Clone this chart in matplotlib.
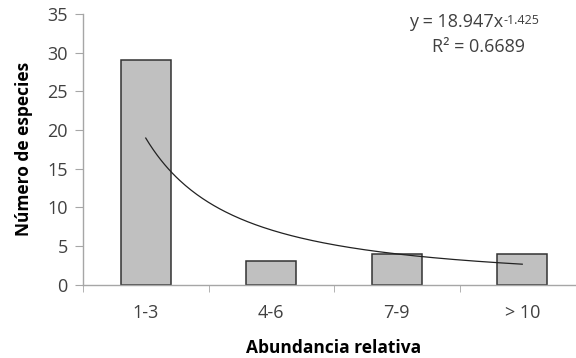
import numpy as np
import matplotlib
matplotlib.use('Agg')
import matplotlib.pyplot as plt

categories = ['1-3', '4-6', '7-9', '> 10']
species = [29, 3, 4, 4]
# power trendline shown on the chart
coef_a = 18.947
coef_b = -1.425

plt.rcParams['font.family'] = ['Open Sans', 'DejaVu Sans']

fig = plt.figure(figsize=(5.76, 3.58), dpi=100)
ax = fig.add_axes([83 / 576, 1 - 284.5 / 358, 502 / 576, 270.5 / 358])

x = np.arange(len(categories))
ax.bar(x, species, width=0.4, color='#C0C0C0', edgecolor='#333333', linewidth=1.1, zorder=2)

xt = np.linspace(1, len(categories), 200)
ax.plot(xt - 1, coef_a * xt ** coef_b, color='#222222', linewidth=0.9, zorder=3)

ax.set_xlim(-0.5, len(categories) - 0.5)
ax.set_ylim(0, 35)
ax.set_yticks(range(0, 36, 5))
ax.set_xticks(x)
ax.set_xticklabels(categories)
ax.set_xticks(np.arange(-0.5, len(categories), 1), minor=True)

for s in ['top', 'right']:
    ax.spines[s].set_visible(False)
for s in ['left', 'bottom']:
    ax.spines[s].set_color('#A6A6A6')
    ax.spines[s].set_linewidth(1)

ax.tick_params(axis='y', length=6, color='#A6A6A6', labelsize=13, labelcolor='#404040', pad=5)
ax.tick_params(axis='x', which='major', length=0, labelsize=13, labelcolor='#404040', pad=14)
ax.tick_params(axis='x', which='minor', length=5, color='#A6A6A6')

ax.set_xlabel('Abundancia relativa', fontsize=12.5, fontweight='bold', labelpad=12)
ax.set_ylabel('Número de especies', fontsize=12.5, fontweight='bold', labelpad=10)

eq = fig.text(503 / 576, 1 - 22 / 358, 'y = 18.947x', ha='right', va='center',
              fontsize=13, color='#404040')
ax.annotate('-1.425', xy=(1, 0.95), xycoords=eq, ha='left', va='top',
            fontsize=9, color='#404040')
fig.text(478 / 576, 1 - 47 / 358, 'R² = 0.6689', ha='center', va='center', fontsize=13, color='#404040')

fig.savefig('out.png', dpi=100)
